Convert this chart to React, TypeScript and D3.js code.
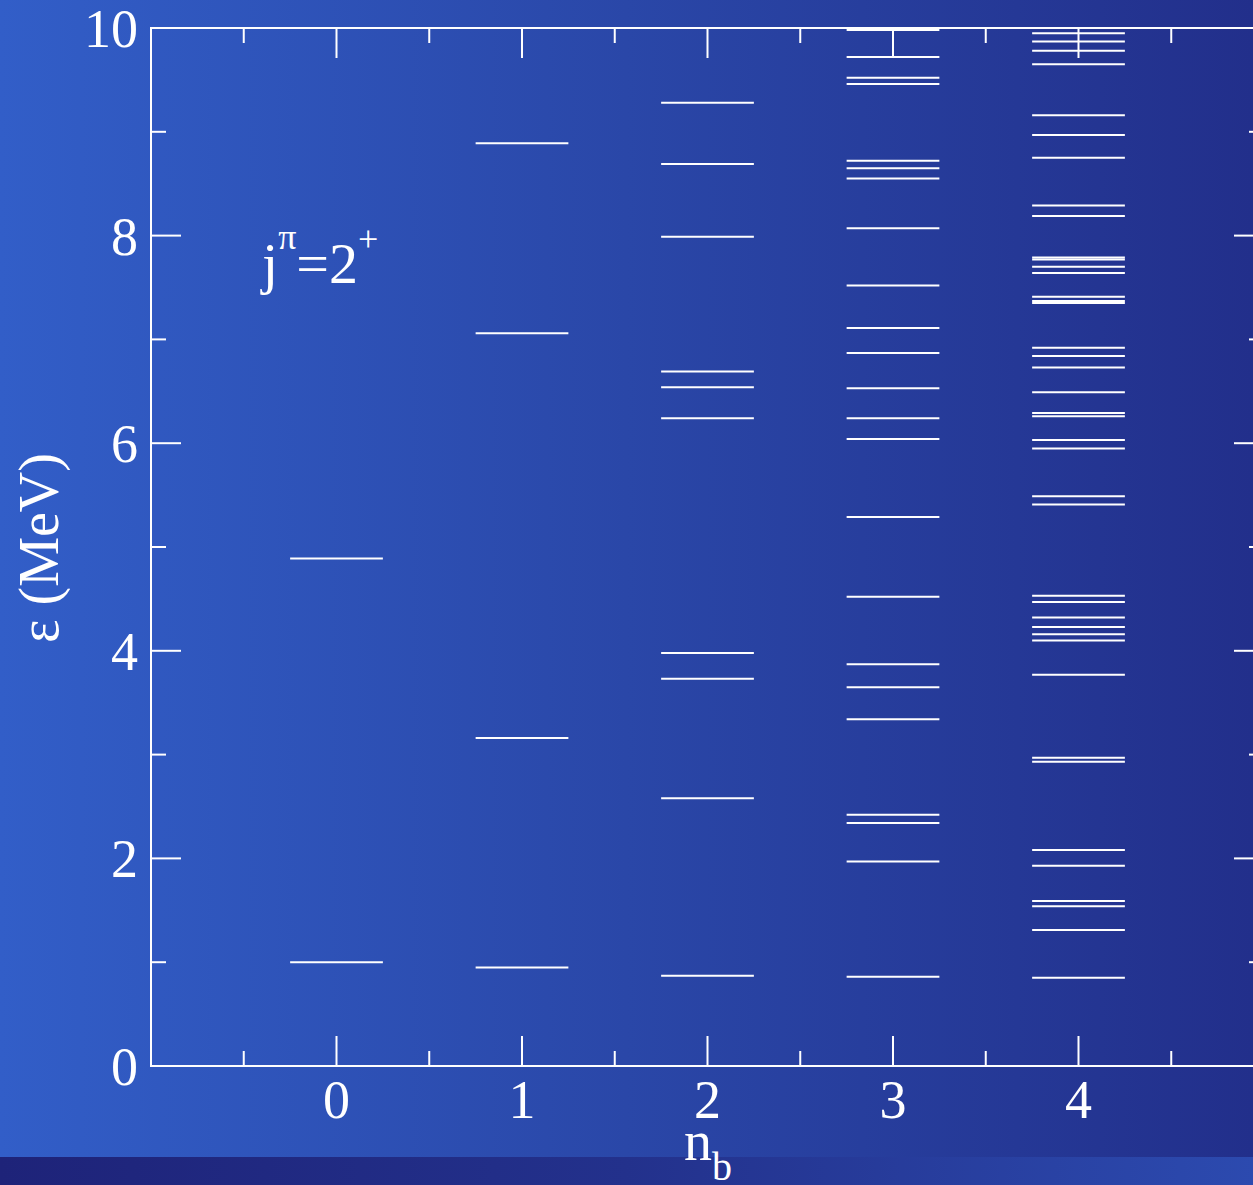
import React from "react";
import * as d3 from "d3";

const W = 1253;
const H = 1185;

const nbValues = [0, 1, 2, 3, 4];
const levels0 = [1.0, 4.89];
const levels1 = [0.95, 3.16, 7.06, 8.89];
const levels2 = [0.87, 2.58, 3.73, 3.98, 6.24, 6.54, 6.69, 7.99, 8.69, 9.28];
const levels3 = [0.86, 1.97, 2.34, 2.42, 3.34, 3.65, 3.87, 4.52, 5.29, 6.04, 6.24, 6.53, 6.87, 7.11, 7.52, 8.07, 8.55, 8.65, 8.72, 9.46, 9.52, 9.72, 9.98];
const levels4 = [0.85, 1.31, 1.54, 1.59, 1.93, 2.08, 2.93, 2.97, 3.77, 4.1, 4.16, 4.23, 4.32, 4.47, 4.53, 5.41, 5.49, 5.95, 6.03, 6.26, 6.29, 6.49, 6.73, 6.84, 6.92, 7.35, 7.37, 7.41, 7.64, 7.7, 7.77, 7.79, 8.19, 8.29, 8.75, 8.97, 9.16, 9.65, 9.78, 9.87, 9.95];
const allLevels = [levels0, levels1, levels2, levels3, levels4];

const yMajorTicks = [0, 2, 4, 6, 8, 10];
const yMinorTicks = [1, 3, 5, 7, 9];
const xMajorTicks = [0, 1, 2, 3, 4];
const xMinorTicks = [-0.5, 0.5, 1.5, 2.5, 3.5, 4.5];

const FONT = "'Liberation Serif', 'Times New Roman', serif";

export default function App() {
  const x = d3.scaleLinear().domain([-1, 5]).range([151, 1264]);
  const y = d3.scaleLinear().domain([0, 10]).range([1066, 28]);
  const halfW = 0.25;
  const major = 30;
  const minor = 15;
  const x0 = x(-1), x1 = x(5), y0 = y(0), y1 = y(10);

  return (
    <svg width={W} height={H} style={{ position: "absolute", left: 0, top: 0, display: "block" }} fontFamily={FONT}>
      <defs>
        <linearGradient id="bg" x1="0" y1="0" x2="1" y2="0">
          <stop offset="0" stopColor="#325ec8" />
          <stop offset="0.5" stopColor="#2a47a8" />
          <stop offset="1" stopColor="#222f8b" />
        </linearGradient>
        <linearGradient id="strip" x1="0" y1="0" x2="1" y2="0">
          <stop offset="0" stopColor="#1e2379" />
          <stop offset="0.5" stopColor="#23318c" />
          <stop offset="1" stopColor="#2c4aaf" />
        </linearGradient>
      </defs>
      <rect x={0} y={0} width={W} height={H} fill="url(#bg)" />
      <rect x={0} y={1157} width={W} height={H - 1157} fill="url(#strip)" />

      {/* levels */}
      <g stroke="#ffffff" strokeWidth={2}>
        {allLevels.map((lv, i) =>
          lv.map((e, j) => (
            <line key={`${i}-${j}`} x1={x(nbValues[i] - halfW)} x2={x(nbValues[i] + halfW)} y1={y(e)} y2={y(e)} />
          ))
        )}
      </g>

      {/* frame */}
      <g stroke="#ffffff" strokeWidth={2} fill="none">
        <rect x={x0} y={y1} width={x1 - x0} height={y0 - y1} />
        {yMajorTicks.map((t) => (
          <g key={`ym${t}`}>
            <line x1={x0} x2={x0 + major} y1={y(t)} y2={y(t)} />
            <line x1={x1} x2={x1 - major} y1={y(t)} y2={y(t)} />
          </g>
        ))}
        {yMinorTicks.map((t) => (
          <g key={`yn${t}`}>
            <line x1={x0} x2={x0 + minor} y1={y(t)} y2={y(t)} />
            <line x1={x1} x2={x1 - minor} y1={y(t)} y2={y(t)} />
          </g>
        ))}
        {xMajorTicks.map((t) => (
          <g key={`xm${t}`}>
            <line x1={x(t)} x2={x(t)} y1={y0} y2={y0 - major} />
            <line x1={x(t)} x2={x(t)} y1={y1} y2={y1 + major} />
          </g>
        ))}
        {xMinorTicks.map((t) => (
          <g key={`xn${t}`}>
            <line x1={x(t)} x2={x(t)} y1={y0} y2={y0 - minor} />
            <line x1={x(t)} x2={x(t)} y1={y1} y2={y1 + minor} />
          </g>
        ))}
      </g>

      {/* tick labels */}
      <g fill="#ffffff" fontSize={54}>
        {yMajorTicks.map((t) => (
          <text key={`yl${t}`} x={138} y={y(t) + 19} textAnchor="end">{t}</text>
        ))}
        {xMajorTicks.map((t) => (
          <text key={`xl${t}`} x={x(t)} y={1118} textAnchor="middle">{t}</text>
        ))}
      </g>

      {/* axis titles */}
      <text fill="#ffffff" fontSize={56} x={684} y={1160}>
        n<tspan fontSize={40} dy={20}>b</tspan>
      </text>
      <text fill="#ffffff" fontSize={56} transform={`translate(58, 548) rotate(-90)`} textAnchor="middle">
        ε (MeV)
      </text>

      {/* annotation */}
      <text fill="#ffffff" fontSize={58} x={262} y={283}>
        j<tspan fontSize={36} dy={-34}>π</tspan><tspan dy={34}>=2</tspan><tspan fontSize={36} dy={-32}>+</tspan>
      </text>
    </svg>
  );
}
